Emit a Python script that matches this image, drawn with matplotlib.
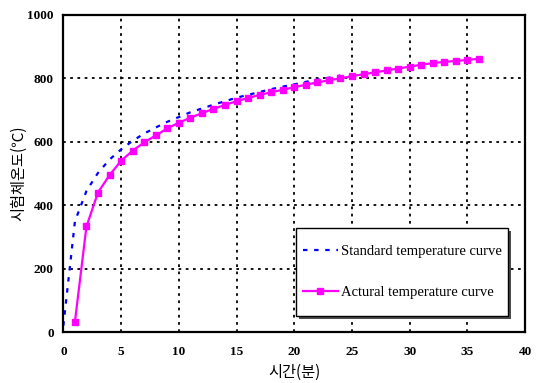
import matplotlib
matplotlib.use("Agg")
import matplotlib.pyplot as plt
from matplotlib.patches import Rectangle

# 표준 가열 곡선 (분, ℃)
std_time = [0, 1, 2, 3, 4, 5, 6, 7, 8, 9, 10, 11, 12, 13, 14, 15, 16, 17, 18, 19, 20, 21, 22, 23, 24]
std_temp = [20, 349, 445, 502, 544, 576, 603, 626, 645, 663, 678, 693, 705, 717, 728, 739, 748, 757,
            766, 774, 781, 789, 796, 802, 809]

# 실측 온도 곡선
act_time = list(range(1, 37))
act_temp = [32, 333, 440, 495, 540, 572, 598, 620, 642, 660, 676, 690, 704, 716, 728, 738, 748, 756,
            764, 772, 780, 787, 794, 800, 807, 813, 819, 825, 831, 837, 843, 848, 852, 855, 858, 862]

serif = ["Liberation Serif", "DejaVu Serif"]
kr = ["Noto Sans CJK KR", "DejaVu Sans"]

fig = plt.figure(figsize=(5.37, 3.83), dpi=100)
ax = fig.add_axes([0.118, 0.133, 0.860, 0.828])

ax.plot(std_time, std_temp, color="blue", linestyle=(0, (2, 3)), linewidth=1.6,
        label="Standard temperature curve")
ax.plot(act_time, act_temp, color="#ff00ff", linestyle="-", linewidth=1.6, marker="s",
        markersize=4.5, label="Actural temperature curve")

ax.set_xlim(0, 40)
ax.set_ylim(0, 1000)
ax.set_xticks(range(0, 41, 5))
ax.set_yticks(range(0, 1001, 200))
ax.grid(True, color="black", linestyle=(0, (1.5, 2.5)), linewidth=1.3)
ax.tick_params(axis="x", length=0, pad=10)
ax.tick_params(axis="y", length=0, pad=7)
for lbl in ax.get_xticklabels() + ax.get_yticklabels():
    lbl.set_fontfamily(serif)
    lbl.set_fontsize(9.5)
    lbl.set_fontweight("bold")
for sp in ax.spines.values():
    sp.set_linewidth(1.6)

ax.set_xlabel("시간(분)", family=kr, fontsize=11, labelpad=4)
ax.set_ylabel("시험체온도(℃)", family=kr, fontsize=11, labelpad=0)

# 범례 상자 (그림자 포함)
ax.add_patch(Rectangle((0.511, 0.04), 0.459, 0.278, transform=ax.transAxes, facecolor="0.3",
                       edgecolor="none", zorder=3.9))
ax.add_patch(Rectangle((0.504, 0.05), 0.459, 0.278, transform=ax.transAxes, facecolor="white",
                       edgecolor="black", linewidth=1.0, zorder=4))

leg = ax.legend(loc="center", bbox_to_anchor=(0.7335, 0.189), prop={"family": serif, "size": 10.5},
                frameon=False, labelspacing=1.9, borderpad=0,
                handlelength=2.4, handletextpad=0.2, borderaxespad=0)
leg.set_zorder(5)

fig.savefig("out.png", dpi=100)
